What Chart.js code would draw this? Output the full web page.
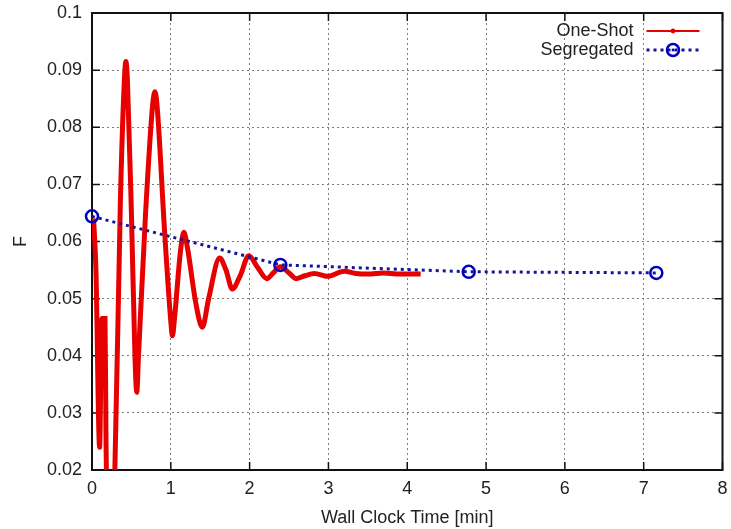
<!DOCTYPE html>
<html><head><meta charset="utf-8">
<script src="https://cdn.jsdelivr.net/npm/chart.js@4/dist/chart.umd.min.js"></script>
<style>html,body{margin:0;padding:0;background:#fff;}#wrap{width:731px;height:529px;}</style>
</head><body><div id="wrap"><canvas id="c" width="731" height="529"></canvas></div>
<script>
// One-Shot series (wall clock time [min], F)
const oneShotX = [0.02, 0.05, 0.097, 0.115, 0.126, 0.165, 0.178, 0.20, 0.23, 0.29, 0.36, 0.41, 0.43, 0.45, 0.50, 0.545, 0.568, 0.59, 0.68, 0.77, 0.80, 0.83, 0.92, 1.00, 1.02, 1.05, 1.12, 1.165, 1.21, 1.32, 1.40, 1.48, 1.62, 1.70, 1.78, 1.88, 1.99, 2.10, 2.22, 2.30, 2.39, 2.50, 2.59, 2.70, 2.82, 2.99, 3.20, 3.35, 3.50, 3.70, 3.90, 4.17];
const oneShotY = [0.0640, 0.0550, 0.0240, 0.0400, 0.0465, 0.0465, 0.0250, 0.0100, 0.0080, 0.0200, 0.0670, 0.0880, 0.0915, 0.0880, 0.0650, 0.0400, 0.0336, 0.0400, 0.0650, 0.0840, 0.0862, 0.0830, 0.0620, 0.0460, 0.0435, 0.0470, 0.0580, 0.0616, 0.0590, 0.0490, 0.0450, 0.0500, 0.0571, 0.0550, 0.0517, 0.0540, 0.0575, 0.0555, 0.0535, 0.0545, 0.0556, 0.0545, 0.0535, 0.0540, 0.0544, 0.0539, 0.0548, 0.0544, 0.0543, 0.0545, 0.0543, 0.0543];
// Segregated series
const segX = [0, 2.39, 4.78, 7.16];
const segY = [0.0644, 0.0559, 0.0547, 0.0545];
// Axis ticks
const xTicks = [0, 1, 2, 3, 4, 5, 6, 7, 8];
const yTicks = [0.02, 0.03, 0.04, 0.05, 0.06, 0.07, 0.08, 0.09, 0.1];
const seriesNames = ['One-Shot', 'Segregated'];

const FONT = '"Liberation Sans", Arial, sans-serif';
const FS = 18;
const RED = '#e60000';
const BLUE_LINE = '#14149a';
const BLUE_PT = '#0000c0';
const GRID = 'rgba(110,110,110,0.9)';

const framePlugin = {
  id: 'frame',
  beforeDatasetsDraw(chart) {
    const {ctx, chartArea: a, scales} = chart;
    ctx.save();
    ctx.strokeStyle = '#111';
    ctx.lineWidth = 1.5;
    const tl = 8;
    ctx.beginPath();
    xTicks.forEach(v => {
      const px = scales.x.getPixelForValue(v);
      ctx.moveTo(px, a.bottom); ctx.lineTo(px, a.bottom - tl);
      ctx.moveTo(px, a.top); ctx.lineTo(px, a.top + tl);
    });
    yTicks.forEach(v => {
      const py = scales.y.getPixelForValue(v);
      ctx.moveTo(a.left, py); ctx.lineTo(a.left + tl, py);
      ctx.moveTo(a.right, py); ctx.lineTo(a.right - tl, py);
    });
    ctx.stroke();
    ctx.lineWidth = 2;
    ctx.strokeRect(a.left, a.top, a.right - a.left, a.bottom - a.top);
    ctx.restore();
  },
  afterDraw(chart) {
    const {ctx, chartArea: a} = chart;
    ctx.save();
    ctx.font = FS + 'px ' + FONT;
    ctx.fillStyle = '#222';
    ctx.textAlign = 'right';
    ctx.textBaseline = 'middle';
    const tx = a.right - 89, y1 = a.top + 18, y2 = a.top + 37;
    ctx.fillText(seriesNames[0], tx, y1);
    ctx.fillText(seriesNames[1], tx, y2);
    const s0 = a.right - 76, s1 = a.right - 23, mid = (s0 + s1) / 2;
    // One-Shot sample
    ctx.strokeStyle = RED; ctx.lineWidth = 1.8;
    ctx.beginPath(); ctx.moveTo(s0, y1); ctx.lineTo(s1, y1); ctx.stroke();
    ctx.fillStyle = RED; ctx.beginPath(); ctx.arc(mid, y1, 2.4, 0, Math.PI * 2); ctx.fill();
    // Segregated sample
    ctx.strokeStyle = BLUE_LINE; ctx.lineWidth = 3; ctx.setLineDash([3, 4]);
    ctx.beginPath(); ctx.moveTo(s0, y2); ctx.lineTo(s1, y2); ctx.stroke();
    ctx.setLineDash([]);
    ctx.strokeStyle = BLUE_PT; ctx.lineWidth = 2.5;
    ctx.beginPath(); ctx.arc(mid, y2, 6, 0, Math.PI * 2); ctx.stroke();
    ctx.fillStyle = BLUE_PT; ctx.beginPath(); ctx.arc(mid, y2, 1.4, 0, Math.PI * 2); ctx.fill();
    ctx.restore();
  }
};

new Chart(document.getElementById('c'), {
  type: 'line',
  data: {
    datasets: [
      {
        label: seriesNames[1],
        data: segX.map((x, i) => ({x, y: segY[i]})),
        borderColor: BLUE_LINE,
        borderWidth: 3,
        borderDash: [3, 4],
        pointRadius: 6,
        pointBorderWidth: 2.5,
        pointBorderColor: BLUE_PT,
        pointBackgroundColor: 'rgba(0,0,0,0)',
        tension: 0,
        clip: false,
        order: 0
      },
      {
        label: seriesNames[0],
        data: oneShotX.map((x, i) => ({x, y: oneShotY[i]})),
        borderColor: RED,
        borderWidth: 5,
        pointRadius: 0,
        cubicInterpolationMode: 'monotone',
        clip: 0,
        order: 1
      }
    ]
  },
  options: {
    responsive: false,
    animation: false,
    devicePixelRatio: 1,
    layout: {padding: {top: 13, right: 5, bottom: 0, left: 0}},
    plugins: {legend: {display: false}, tooltip: {enabled: false}},
    scales: {
      x: {
        type: 'linear', min: 0, max: 8,
        afterBuildTicks: s => { s.ticks = xTicks.map(v => ({value: v})); },
        afterFit: s => { s.height = 59; s.paddingLeft = 0; s.paddingRight = 0; },
        border: {display: false, dash: [2, 3]},
        grid: {color: GRID, lineWidth: 1, drawTicks: false},
        ticks: {font: {family: FONT, size: FS}, color: '#222', padding: 8, autoSkip: false, maxRotation: 0,
                callback: v => String(v)},
        title: {display: true, text: 'Wall Clock Time [min]', font: {family: FONT, size: FS}, color: '#222', padding: {top: 0, bottom: 0}}
      },
      y: {
        type: 'linear', min: 0.02, max: 0.1,
        afterBuildTicks: s => { s.ticks = yTicks.map(v => ({value: v})); },
        afterFit: s => { s.width = 92; s.paddingTop = 0; s.paddingBottom = 0; },
        border: {display: false, dash: [2, 3]},
        grid: {color: GRID, lineWidth: 1, drawTicks: false},
        ticks: {font: {family: FONT, size: FS}, color: '#222', padding: 10,
                callback: v => String(Number(v.toFixed(2)))},
        title: {display: true, text: 'F', font: {family: FONT, size: FS}, color: '#222', padding: {top: 10, bottom: 0}}
      }
    }
  },
  plugins: [framePlugin]
});
</script>
</body></html>
